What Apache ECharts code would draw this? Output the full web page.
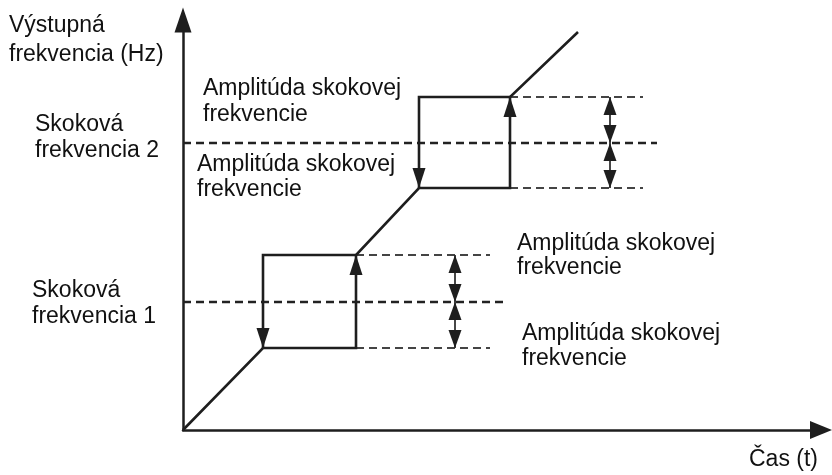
<!DOCTYPE html>
<html><head><meta charset="utf-8">
<script src="https://cdn.jsdelivr.net/npm/echarts@6/dist/echarts.min.js"></script>
<style>html,body{margin:0;padding:0;background:#fff}#c{width:832px;height:475px}</style>
</head><body><div id="c"></div>
<script>
// Schematic values (time t, output frequency f in arbitrary units)
const T_MAX = 638, F_MAX = 410;
const jumpFreq    = [128, 287];   // Skoková frekvencia 1, 2
const bandLow     = [82, 242];    // lower edge of each jump band
const bandHigh    = [175, 333];   // upper edge of each jump band
const boxStart    = [80, 236];    // time at which ramp reaches a band (box left side)
const boxEnd      = [173, 327];   // time at which output jumps up (box right side)
const rampEnd     = [395, 398];   // end of the last ramp
const jumpLineEnd = [320, 474];   // extent of the jump-frequency dashed lines
const bandLineEnd = [307, 460];   // extent of the band-edge dashed lines
const ampArrowT   = [272, 427];   // time position of the amplitude double arrows

const FONT = '"Liberation Sans", Arial, sans-serif';
const INK = '#1e1e1e';

// --- build geometry from the values ---
const mainPath = [[0, 0]];
for (let i = 0; i < 2; i++) {
  mainPath.push([boxStart[i], bandLow[i]], [boxEnd[i], bandLow[i]], [boxEnd[i], bandHigh[i]]);
}
mainPath.push(rampEnd);

const solidSegs = [{coords: mainPath}];
const arrowHeads = [];
const dashedJump = [], dashedBand = [], thinSegs = [];
for (let i = 0; i < 2; i++) {
  solidSegs.push({coords: [[boxEnd[i], bandHigh[i]], [boxStart[i], bandHigh[i]], [boxStart[i], bandLow[i]]]});
  arrowHeads.push({value: [boxStart[i], bandLow[i]], dir: 'down', big: true});
  arrowHeads.push({value: [boxEnd[i], bandHigh[i]], dir: 'up', big: true});
  dashedJump.push({coords: [[0, jumpFreq[i]], [jumpLineEnd[i], jumpFreq[i]]]});
  dashedBand.push({coords: [[boxEnd[i], bandLow[i]], [bandLineEnd[i], bandLow[i]]]});
  dashedBand.push({coords: [[boxEnd[i], bandHigh[i]], [bandLineEnd[i], bandHigh[i]]]});
  thinSegs.push({coords: [[ampArrowT[i], bandLow[i]], [ampArrowT[i], bandHigh[i]]]});
  arrowHeads.push({value: [ampArrowT[i], bandHigh[i]], dir: 'up'});
  arrowHeads.push({value: [ampArrowT[i], jumpFreq[i]], dir: 'down'});
  arrowHeads.push({value: [ampArrowT[i], jumpFreq[i]], dir: 'up'});
  arrowHeads.push({value: [ampArrowT[i], bandLow[i]], dir: 'down'});
}

const arrowData = arrowHeads.map(a => {
  const sz = a.big ? [13, 20] : [13, 18];
  return {
    value: a.value,
    symbolSize: sz,
    symbolRotate: a.dir === 'up' ? 0 : 180,
    symbolOffset: [0, a.dir === 'up' ? sz[1] / 2 : -sz[1] / 2]
  };
});

// --- texts ---
const labels = [
  ['Výstupná', 9, 26], ['frekvencia (Hz)', 9, 55],
  ['Skoková', 35, 125], ['frekvencia 2', 35, 151],
  ['Skoková', 32, 291], ['frekvencia 1', 32, 317],
  ['Amplitúda skokovej', 203, 89], ['frekvencie', 203, 115],
  ['Amplitúda skokovej', 197, 165], ['frekvencie', 197, 190],
  ['Amplitúda skokovej', 517, 244], ['frekvencie', 517, 268],
  ['Amplitúda skokovej', 522, 334], ['frekvencie', 522, 359],
  ['Čas (t)', 749, 460]
];

const chart = echarts.init(document.getElementById('c'), null, {renderer: 'canvas'});
chart.setOption({
  animation: false,
  backgroundColor: '#fff',
  grid: {left: 183, right: 11, top: 20, bottom: 45, containLabel: false},
  xAxis: {
    type: 'value', min: 0, max: T_MAX,
    axisLine: {show: true, onZero: false, symbol: ['none', 'triangle'], symbolSize: [18, 22],
      lineStyle: {color: INK, width: 2.5}},
    axisTick: {show: false}, axisLabel: {show: false}, splitLine: {show: false}
  },
  yAxis: {
    type: 'value', min: 0, max: F_MAX,
    axisLine: {show: true, onZero: false, symbol: ['none', 'triangle'], symbolSize: [17, 25],
      lineStyle: {color: INK, width: 2.5}},
    axisTick: {show: false}, axisLabel: {show: false}, splitLine: {show: false}
  },
  series: [
    {type: 'lines', coordinateSystem: 'cartesian2d', polyline: true, silent: true,
      lineStyle: {color: '#444', width: 2.2, type: [8, 5], opacity: 1}, data: dashedBand, z: 2},
    {type: 'lines', coordinateSystem: 'cartesian2d', polyline: true, silent: true,
      lineStyle: {color: '#222', width: 2.6, type: [8, 5], opacity: 1}, data: dashedJump, z: 2},
    {type: 'lines', coordinateSystem: 'cartesian2d', polyline: true, silent: true,
      lineStyle: {color: '#333', width: 1.8, opacity: 1}, data: thinSegs, z: 3},
    {type: 'lines', coordinateSystem: 'cartesian2d', polyline: true, silent: true,
      lineStyle: {color: INK, width: 2.6, opacity: 1, join: 'miter'}, data: solidSegs, z: 4},
    {type: 'scatter', silent: true, symbol: 'triangle', itemStyle: {color: INK, opacity: 1},
      data: arrowData, z: 5}
  ],
  graphic: labels.map(([t, x, y]) => ({
    type: 'text', x: x, y: y, silent: true,
    style: {text: t, font: '23px ' + FONT, fill: '#111', textVerticalAlign: 'middle', verticalAlign: 'middle'}
  }))
});
</script></body></html>
